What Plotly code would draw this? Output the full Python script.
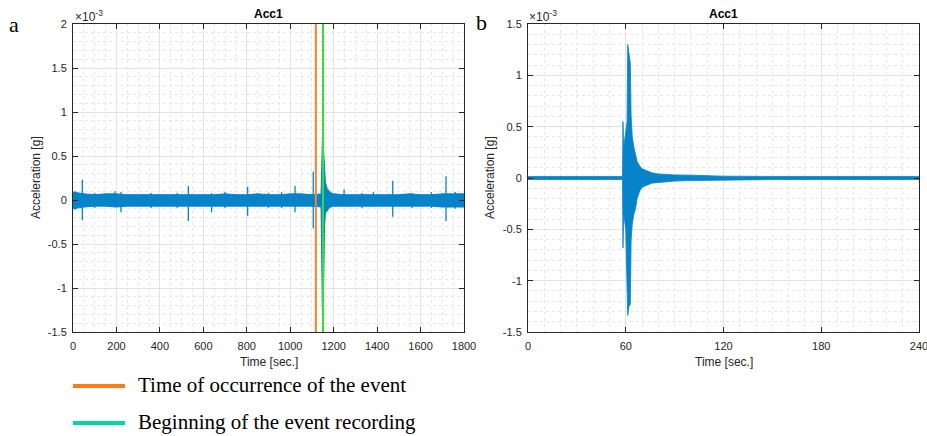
import plotly.graph_objects as go

# ---------------- data (acceleration in units of 1e-3 g) ----------------
# Panel a: background noise envelope
band_a_t = [0, 50, 100, 150, 200, 250, 300, 350, 400, 450, 500, 550, 600, 650, 700, 750, 800, 850,
            900, 950, 1000, 1050, 1100, 1150, 1200, 1250, 1300, 1350, 1400, 1450, 1500, 1550, 1600,
            1650, 1700, 1750, 1800]
band_a_hi = [0.09, 0.07, 0.06, 0.07, 0.07, 0.06, 0.06, 0.06, 0.06, 0.06, 0.06, 0.06, 0.06, 0.06, 0.07,
             0.06, 0.06, 0.07, 0.06, 0.06, 0.07, 0.07, 0.06, 0.07, 0.07, 0.06, 0.06, 0.06, 0.06, 0.06,
             0.06, 0.07, 0.06, 0.06, 0.07, 0.07, 0.07]
band_a_lo = [-0.10, -0.08, -0.07, -0.07, -0.08, -0.07, -0.07, -0.07, -0.07, -0.07, -0.07, -0.07, -0.07,
             -0.07, -0.07, -0.07, -0.07, -0.07, -0.07, -0.07, -0.07, -0.07, -0.07, -0.08, -0.07, -0.07,
             -0.07, -0.07, -0.07, -0.07, -0.07, -0.07, -0.07, -0.07, -0.08, -0.08, -0.08]
# Panel a: isolated spikes
spike_a_t = [12, 43, 100, 193, 221, 360, 480, 531, 638, 700, 804, 900, 960, 1022, 1106, 1248, 1330,
             1383, 1472, 1560, 1650, 1717, 1760]
spike_a_hi = [0.10, 0.23, 0.08, 0.10, 0.09, 0.08, 0.08, 0.16, 0.08, 0.09, 0.15, 0.08, 0.09, 0.16, 0.32,
              0.12, 0.08, 0.09, 0.22, 0.08, 0.09, 0.27, 0.09]
spike_a_lo = [-0.11, -0.23, -0.09, -0.08, -0.14, -0.09, -0.09, -0.24, -0.14, -0.09, -0.18, -0.09, -0.09,
              -0.14, -0.32, -0.08, -0.09, -0.08, -0.19, -0.09, -0.09, -0.24, -0.10]
# Panel a: earthquake burst
event_a_t = [1142, 1145, 1148, 1152, 1155, 1158, 1162, 1170, 1180, 1195]
event_a_hi = [0.07, 0.50, 0.67, 0.62, 0.45, 0.25, 0.20, 0.13, 0.10, 0.07]
event_a_lo = [-0.07, -0.70, -1.25, -1.25, -1.10, -0.30, -0.15, -0.12, -0.09, -0.07]
t_occurrence = 1118
t_recording = 1151

# Panel b: recorded event envelope
event_b_t = [0, 10, 20, 30, 40, 50, 58.0, 58.3, 58.7, 60.0, 60.8, 61.2, 62.0, 62.8, 63.3, 64.0, 65.0,
             66.0, 67.0, 68.5, 70, 73, 76, 80, 85, 90, 100, 110, 120, 150, 180, 210, 240]
event_b_hi = [0.015, 0.015, 0.012, 0.015, 0.012, 0.015, 0.015, 0.55, 0.30, 0.45, 0.55, 1.30, 1.20, 1.12,
              0.60, 0.40, 0.30, 0.22, 0.16, 0.12, 0.09, 0.07, 0.05, 0.04, 0.035, 0.03, 0.028, 0.022,
              0.018, 0.015, 0.015, 0.012, 0.015]
event_b_lo = [-0.015, -0.015, -0.012, -0.015, -0.012, -0.015, -0.015, -0.68, -0.35, -0.50, -0.90, -1.34,
              -1.25, -1.23, -0.60, -0.45, -0.35, -0.30, -0.20, -0.13, -0.09, -0.07, -0.05, -0.04,
              -0.035, -0.03, -0.025, -0.022, -0.018, -0.015, -0.015, -0.012, -0.015]

xa_ticks = [0, 200, 400, 600, 800, 1000, 1200, 1400, 1600, 1800]
ya_ticks = [-1.5, -1, -0.5, 0, 0.5, 1, 1.5, 2]
xb_ticks = [0, 60, 120, 180, 240]
yb_ticks = [-1.5, -1, -0.5, 0, 0.5, 1, 1.5]

legend_labels = ["Time of occurrence of the event", "Beginning of the event recording"]

# ---------------- styling ----------------
BLUE = "#0683c9"
ORANGE_LINE = "#f7822e"
GREEN_LINE = "#33dd33"
ORANGE_LEG = "#ff7b14"
TEAL_LEG = "#00d6a2"
AX = "#262626"
W, H = 927, 436


def px_x(p):
    return p / W


def px_y(p):
    return 1 - p / H


def fmt(v):
    return "%g" % v


fig = go.Figure()

fig.add_trace(go.Scatter(x=band_a_t + band_a_t[::-1], y=band_a_hi + band_a_lo[::-1], fill="toself",
                         fillcolor=BLUE, line=dict(color=BLUE, width=1), mode="lines",
                         xaxis="x", yaxis="y", hoverinfo="skip"))
sx, sy = [], []
for t, h, l in zip(spike_a_t, spike_a_hi, spike_a_lo):
    sx += [t, t, None]
    sy += [h, l, None]
fig.add_trace(go.Scatter(x=sx, y=sy, mode="lines", line=dict(color=BLUE, width=1.3),
                         xaxis="x", yaxis="y", hoverinfo="skip"))
fig.add_trace(go.Scatter(x=event_a_t + event_a_t[::-1], y=event_a_hi + event_a_lo[::-1], fill="toself",
                         fillcolor=BLUE, line=dict(color=BLUE, width=1), mode="lines",
                         xaxis="x", yaxis="y", hoverinfo="skip"))
fig.add_trace(go.Scatter(x=[t_occurrence, t_occurrence], y=[-1.5, 2], mode="lines",
                         line=dict(color=ORANGE_LINE, width=2), xaxis="x", yaxis="y", hoverinfo="skip"))
fig.add_trace(go.Scatter(x=[t_recording, t_recording], y=[-1.5, 2], mode="lines",
                         line=dict(color=GREEN_LINE, width=2), xaxis="x", yaxis="y", hoverinfo="skip"))

fig.add_trace(go.Scatter(x=event_b_t + event_b_t[::-1], y=event_b_hi + event_b_lo[::-1], fill="toself",
                         fillcolor=BLUE, line=dict(color=BLUE, width=0.8), mode="lines",
                         xaxis="x2", yaxis="y2", hoverinfo="skip"))

tickfont = dict(family="Liberation Sans, Arial", size=11, color=AX)


def axis(dom, rng, ticks, minor, anchor, standoff):
    return dict(domain=dom, range=rng, tickvals=ticks, ticktext=[fmt(v) for v in ticks],
                ticks="inside", ticklen=5, tickcolor=AX, showline=True, linecolor=AX, linewidth=1,
                mirror="ticks", showgrid=True, gridcolor="#e3e3e3", gridwidth=1, zeroline=False,
                tickfont=tickfont, ticklabelstandoff=standoff, anchor=anchor, automargin=False,
                fixedrange=True, ticklabeloverflow="allow",
                minor=dict(dtick=minor, tick0=0, showgrid=True, gridcolor="#e6e6e6", griddash="dot",
                           ticks=""))


ydom = [px_y(332), px_y(24)]
fig.update_layout(
    width=W, height=H, autosize=False, margin=dict(l=0, r=0, t=0, b=0, pad=0, autoexpand=False),
    showlegend=False, paper_bgcolor="white", plot_bgcolor="white",
    xaxis=axis([px_x(73), px_x(464)], [0, 1800], xa_ticks, 50, "y", 4),
    yaxis=axis(ydom, [-1.5, 2], ya_ticks, 0.1, "x", 3),
    xaxis2=axis([px_x(528), px_x(919)], [0, 240], xb_ticks, 10, "y2", 4),
    yaxis2=axis(ydom, [-1.5, 1.5], yb_ticks, 0.1, "x2", 3),
)

ann = []
lab = dict(family="Liberation Sans, Arial", size=12, color=AX)


def note(x, y, text, font, **kw):
    d = dict(x=px_x(x), y=px_y(y), xref="paper", yref="paper", text=text, showarrow=False,
             font=font, yanchor="middle", xanchor="center")
    d.update(kw)
    ann.append(d)


for cx, yx in [(268.5, 36), (723.5, 490)]:
    note(cx, 14, "<b>Acc1</b>", dict(family="Liberation Sans, Arial", size=12, color="black"))
    note(cx, 362, "Time [sec.]", lab)
    note(yx, 178, "Acceleration [g]", lab, textangle=-90)
for lx in [73, 527]:
    note(lx, 16, "×10<sup>-3</sup>", dict(family="Liberation Sans, Arial", size=12, color=AX),
         xanchor="left")
note(14, 24, "a", dict(family="Liberation Serif, Times New Roman", size=22, color="black"))
note(481, 22, "b", dict(family="Liberation Serif, Times New Roman", size=22, color="black"))

shapes = []
for ly, col, txt in [(386, ORANGE_LEG, legend_labels[0]), (423, TEAL_LEG, legend_labels[1])]:
    shapes.append(dict(type="line", xref="paper", yref="paper", x0=px_x(73), x1=px_x(125),
                       y0=px_y(ly), y1=px_y(ly), line=dict(color=col, width=4)))
    note(136, ly - 1, txt, dict(family="Liberation Serif, Times New Roman", size=21, color="black"),
         xanchor="left")
fig.update_layout(annotations=ann, shapes=shapes)

fig.write_html("out.html", config={"displayModeBar": False})
